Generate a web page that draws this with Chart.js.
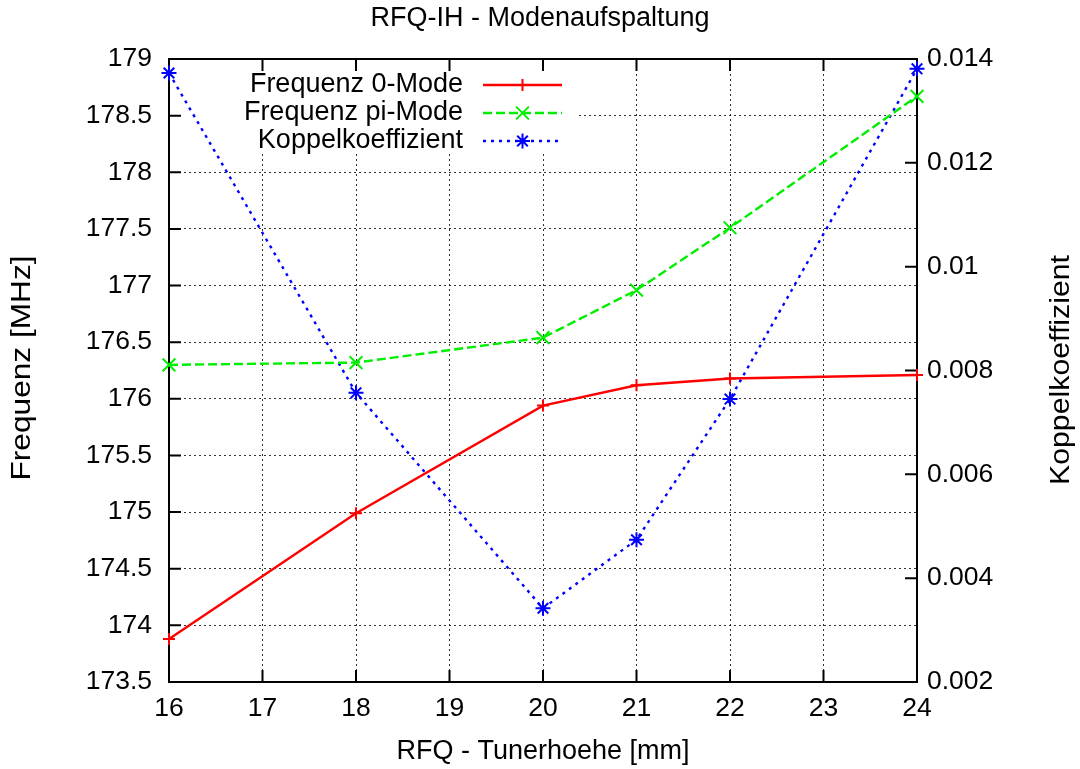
<!DOCTYPE html>
<html>
<head>
<meta charset="utf-8">
<title>RFQ-IH - Modenaufspaltung</title>
<script src="https://cdn.jsdelivr.net/npm/chart.js@4/dist/chart.umd.min.js"></script>
<style>
  html, body { margin: 0; padding: 0; background: #fff; }
  #wrap { width: 1080px; height: 769px; }
</style>
</head>
<body>
<div id="wrap"><canvas id="modeChart" width="1080" height="769"></canvas></div>
<script>
// --- data ---
const tunerHeight = [16, 18, 20, 21, 22, 24];
const freqZeroMode = [173.88, 174.99, 175.94, 176.12, 176.18, 176.21];
const freqPiMode = [176.30, 176.32, 176.54, 176.96, 177.51, 178.67];
const couplingCoeff = [0.01373, 0.00757, 0.00342, 0.00474, 0.00745, 0.01381];

const seriesLabels = ["Frequenz 0-Mode", "Frequenz pi-Mode", "Koppelkoeffizient"];

// --- layout ---
const FONT = '"Liberation Sans", Arial, Helvetica, sans-serif';
const W = 1080, H = 769;
const AREA = { left: 169, right: 917, top: 59, bottom: 682 };
const TICK = 12;
const KEY = { right: 577, bottom: 153, textRight: 463, lineLeft: 483, lineRight: 562, firstRow: 85, rowGap: 28 };
const GRID_COLOR = "rgba(0,0,0,0.8)";

Chart.defaults.font.family = FONT;
Chart.defaults.color = "#000";

const toPoints = (vals) => vals.map((v, i) => ({ x: tunerHeight[i], y: v }));

function fmt(v) {
  return String(Number(v.toFixed(4)));
}

function drawMarker(ctx, style, r, x, y) {
  if (Chart.helpers && Chart.helpers.drawPoint) {
    Chart.helpers.drawPoint(ctx, { pointStyle: style, radius: r, rotation: 0, borderWidth: ctx.lineWidth }, x, y);
    return;
  }
  ctx.beginPath();
  const d = r * Math.SQRT1_2;
  if (style !== "crossRot") {
    ctx.moveTo(x - r, y); ctx.lineTo(x + r, y);
    ctx.moveTo(x, y - r); ctx.lineTo(x, y + r);
  }
  if (style !== "cross") {
    ctx.moveTo(x - d, y - d); ctx.lineTo(x + d, y + d);
    ctx.moveTo(x - d, y + d); ctx.lineTo(x + d, y - d);
  }
  ctx.stroke();
}

// rotated axis title, stretched along its length to the given span
function drawVerticalTitle(ctx, text, x, y, size, span) {
  ctx.save();
  ctx.font = size + "px " + FONT;
  const natural = ctx.measureText(text).width;
  ctx.translate(x, y);
  ctx.rotate(-Math.PI / 2);
  ctx.scale(span / natural, 1);
  ctx.fillStyle = "#000";
  ctx.textAlign = "center";
  ctx.textBaseline = "middle";
  ctx.fillText(text, 0, 0);
  ctx.restore();
}

// border, inward tick marks and the blank patch behind the key
const frameDecor = {
  id: "frameDecor",
  beforeDatasetsDraw(chart) {
    const { ctx, chartArea: a, scales } = chart;
    ctx.save();
    ctx.fillStyle = "#fff";
    ctx.fillRect(a.left + 1, a.top + 1, KEY.right - a.left, KEY.bottom - a.top);

    ctx.strokeStyle = "#000";
    ctx.lineWidth = 2;
    ctx.setLineDash([]);
    ctx.beginPath();
    scales.x.ticks.forEach((t) => {
      const px = scales.x.getPixelForValue(t.value);
      ctx.moveTo(px, a.bottom); ctx.lineTo(px, a.bottom - TICK);
      ctx.moveTo(px, a.top); ctx.lineTo(px, a.top + TICK);
    });
    scales.y.ticks.forEach((t) => {
      const py = scales.y.getPixelForValue(t.value);
      ctx.moveTo(a.left, py); ctx.lineTo(a.left + TICK, py);
    });
    scales.y2.ticks.forEach((t) => {
      const py = scales.y2.getPixelForValue(t.value);
      ctx.moveTo(a.right, py); ctx.lineTo(a.right - TICK, py);
    });
    ctx.stroke();
    ctx.strokeRect(a.left, a.top, a.right - a.left, a.bottom - a.top);
    ctx.restore();
  },
  afterDraw(chart) {
    const { ctx } = chart;
    ctx.save();
    // key
    ctx.font = "27px " + FONT;
    chart.data.datasets.forEach((ds, i) => {
      const y = KEY.firstRow + i * KEY.rowGap;
      ctx.fillStyle = "#000";
      ctx.textAlign = "right";
      ctx.textBaseline = "middle";
      ctx.fillText(ds.label, KEY.textRight, y);

      ctx.strokeStyle = ds.borderColor;
      ctx.lineWidth = ds.borderWidth;
      ctx.setLineDash(ds.borderDash || []);
      ctx.beginPath();
      ctx.moveTo(KEY.lineLeft, y);
      ctx.lineTo(KEY.lineRight, y);
      ctx.stroke();
      ctx.setLineDash([]);
      ctx.lineWidth = ds.pointBorderWidth;
      ctx.fillStyle = ds.borderColor;
      drawMarker(ctx, ds.pointStyle, ds.pointRadius, (KEY.lineLeft + KEY.lineRight) / 2, y);
    });
    ctx.restore();

    drawVerticalTitle(ctx, "Frequenz [MHz]", 23, 368, 27, 225);
    drawVerticalTitle(ctx, "Koppelkoeffizient", 1062, 370, 27, 230);
  }
};

const tickFont = { family: FONT, size: 26.5 };

new Chart(document.getElementById("modeChart"), {
  type: "line",
  data: {
    datasets: [
      {
        label: seriesLabels[0],
        data: toPoints(freqZeroMode),
        yAxisID: "y",
        borderColor: "#ff0000",
        backgroundColor: "#ff0000",
        borderWidth: 2.4,
        pointStyle: "cross",
        pointRadius: 6,
        pointBorderWidth: 2,
        pointBorderColor: "#ff0000",
        tension: 0,
        clip: false
      },
      {
        label: seriesLabels[1],
        data: toPoints(freqPiMode),
        yAxisID: "y",
        borderColor: "#00ee00",
        backgroundColor: "#00ee00",
        borderWidth: 2.4,
        borderDash: [9, 4],
        pointStyle: "crossRot",
        pointRadius: 9,
        pointBorderWidth: 2,
        pointBorderColor: "#00ee00",
        tension: 0,
        clip: false
      },
      {
        label: seriesLabels[2],
        data: toPoints(couplingCoeff),
        yAxisID: "y2",
        borderColor: "#0000ff",
        backgroundColor: "#0000ff",
        borderWidth: 2.4,
        borderDash: [3, 5],
        pointStyle: "star",
        pointRadius: 7.5,
        pointBorderWidth: 2,
        pointBorderColor: "#0000ff",
        tension: 0,
        clip: false
      }
    ]
  },
  options: {
    responsive: false,
    animation: false,
    devicePixelRatio: 1,
    layout: { padding: 0 },
    plugins: {
      legend: { display: false },
      tooltip: { enabled: false },
      title: {
        display: true,
        text: "RFQ-IH - Modenaufspaltung",
        color: "#000",
        font: { family: FONT, size: 27, weight: "normal" },
        padding: { top: 2, bottom: AREA.top - 2 - 27 * 1.2 }
      }
    },
    scales: {
      x: {
        type: "linear",
        position: "bottom",
        min: 16,
        max: 24,
        ticks: { stepSize: 1, font: tickFont, color: "#000", padding: 11, maxRotation: 0, autoSkip: false },
        grid: { color: GRID_COLOR, lineWidth: 1, drawTicks: false },
        border: { display: false, dash: [2, 3] },
        title: {
          display: true,
          text: "RFQ - Tunerhoehe [mm]",
          color: "#000",
          font: { family: FONT, size: 27 },
          padding: { top: 0, bottom: 1 }
        },
        afterFit(s) { s.height = H - AREA.bottom; }
      },
      y: {
        type: "linear",
        position: "left",
        min: 173.5,
        max: 179,
        ticks: { stepSize: 0.5, font: tickFont, color: "#000", padding: 17, autoSkip: false, callback: (v) => fmt(v) },
        grid: { color: GRID_COLOR, lineWidth: 1, drawTicks: false },
        border: { display: false, dash: [2, 3] },
        afterFit(s) { s.width = AREA.left; }
      },
      y2: {
        type: "linear",
        position: "right",
        min: 0.002,
        max: 0.014,
        ticks: { stepSize: 0.002, font: tickFont, color: "#000", padding: 10, autoSkip: false, callback: (v) => fmt(v) },
        grid: { drawOnChartArea: false, drawTicks: false },
        border: { display: false },
        afterFit(s) { s.width = W - AREA.right; }
      }
    }
  },
  plugins: [frameDecor]
});
</script>
</body>
</html>
